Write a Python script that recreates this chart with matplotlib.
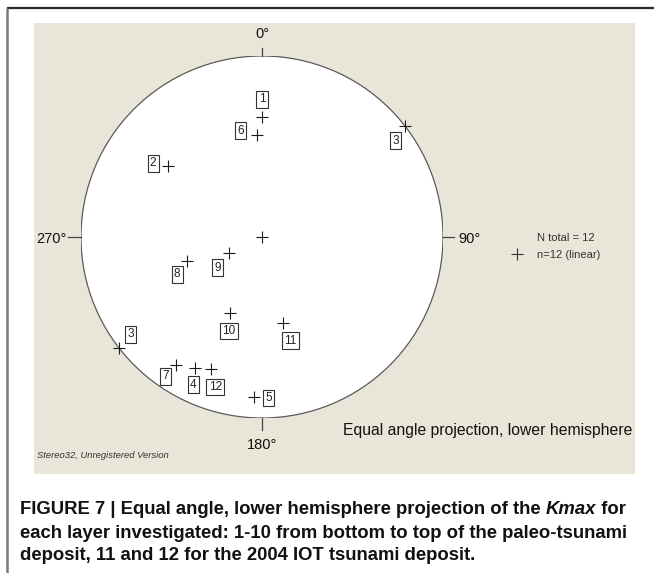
import numpy as np
import matplotlib
matplotlib.use("Agg")
import matplotlib.pyplot as plt
from matplotlib.patches import Rectangle, Circle
from matplotlib import font_manager

# ---------------- data (Kmax axes, one per layer) ----------------
layers = ["1", "2", "3", "4", "5", "6", "7", "8", "9", "10", "11", "12"]
trend = [0, 307, 52, 207, 183, 357, 214, 252, 245, 203, 166, 201]     # degrees
plunge = [23, 24, 0, 12, 7, 31, 9, 43, 67, 41, 38, 14]               # degrees
n_total = 12
direction_labels = ["0°", "90°", "180°", "270°"]
projection_note = "Equal angle projection, lower hemisphere"
software_note = "Stereo32, Unregistered Version"
caption_lines = [
    [("FIGURE 7 | Equal angle, lower hemisphere projection of the ", "normal"),
     ("Kmax", "italic"), (" for", "normal")],
    [("each layer investigated: 1-10 from bottom to top of the paleo-tsunami", "normal")],
    [("deposit, 11 and 12 for the 2004 IOT tsunami deposit.", "normal")],
]

# label placement relative to each cross (pixels, x right, y down)
label_offsets = {
    "1": (0, -18), "2": (-15, -3), "3": (-9, 15), "4": (-2, 17), "5": (15, 1),
    "6": (-16, -4), "7": (-10, 11), "8": (-10, 13), "9": (-11, 15),
    "10": (-1, 18), "11": (7, 18), "12": (4, 18),
}
antipode_offset = (11, -14)

W, H, DPI = 654, 573, 100
fig = plt.figure(figsize=(W / DPI, H / DPI), dpi=DPI)
fig.patch.set_facecolor("white")

names = {f.name for f in font_manager.fontManager.ttflist}
cap_family = "Liberation Sans Narrow" if "Liberation Sans Narrow" in names else "Liberation Sans"

# background axes in pixel coordinates
bg = fig.add_axes([0, 0, 1, 1], zorder=0)
bg.set_xlim(0, W)
bg.set_ylim(H, 0)
bg.axis("off")
bg.add_patch(Rectangle((34, 23), 601, 451, fc="#E9E5D8", ec="none"))
bg.plot([7, W], [8, 8], color="#2a2a2a", lw=1.6, solid_capstyle="butt")
bg.plot([7, 7], [8, H], color="#7a7a7a", lw=1.8, solid_capstyle="butt")

renderer = fig.canvas.get_renderer()


def fit_width(t, target):
    w = t.get_window_extent(renderer).width
    t.set_fontsize(t.get_fontsize() * target / w)


# stereonet axes: circle centre (262, 237) px, radius 181 px
cx, cy, R = 262, 237, 181
ax = fig.add_axes([(cx - R) / W, (H - cy - R) / H, 2 * R / W, 2 * R / H], zorder=2)
ax.set_xlim(-1, 1)
ax.set_ylim(-1, 1)
ax.axis("off")
ax.add_patch(Circle((0, 0), 1, fc="white", ec="#5a5a5a", lw=0.9, zorder=1))

# ticks at N/E/S/W
px = 1.0 / R
tick_len = {"0°": 8, "90°": 11, "180°": 12, "270°": 13}
lab_font = dict(family="Liberation Sans", fontsize=10.5, color="#111111")
ax.plot([0, 0], [1, 1 + tick_len["0°"] * px], color="#444", lw=0.9, clip_on=False)
ax.plot([1, 1 + tick_len["90°"] * px], [0, 0], color="#444", lw=0.9, clip_on=False)
ax.plot([0, 0], [-1, -1 - tick_len["180°"] * px], color="#444", lw=0.9, clip_on=False)
ax.plot([-1, -1 - tick_len["270°"] * px], [0, 0], color="#444", lw=0.9, clip_on=False)
ax.text(0, 1 + 22 * px, direction_labels[0], ha="center", va="center", clip_on=False, **lab_font)
ax.text(1 + 15 * px, -2 * px, direction_labels[1], ha="left", va="center", clip_on=False, **lab_font)
ax.text(0, -1 - 27 * px, direction_labels[2], ha="center", va="center", clip_on=False, **lab_font)
ax.text(-1 - 14 * px, -2 * px, direction_labels[3], ha="right", va="center", clip_on=False, **lab_font)

# projection of the lineations (equal angle, lower hemisphere)
t = np.radians(trend)
p = np.radians(plunge)
r = np.tan((np.pi / 2 - p) / 2)
xs = r * np.sin(t)
ys = r * np.cos(t)

cross = dict(marker="+", ms=8.5, mew=0.8, color="#1a1a1a", ls="none", zorder=3)
ax.plot([0], [0], **cross)  # centre mark
ax.plot(xs, ys, clip_on=False, **cross)

box = dict(boxstyle="square,pad=0.2", fc="white", ec="#333333", lw=0.8)
k = 72.0 / DPI
for lab, x, y, pl in zip(layers, xs, ys, plunge):
    dx, dy = label_offsets[lab]
    ax.annotate(lab, (x, y), xytext=(dx * k, -dy * k), textcoords="offset points",
                ha="center", va="center", fontsize=8.5, family="Liberation Sans",
                color="#222", bbox=box, zorder=4, annotation_clip=False)
    if pl == 0:  # horizontal line: plot both ends
        ax.plot([-x], [-y], clip_on=False, **cross)
        dx, dy = antipode_offset
        ax.annotate(lab, (-x, -y), xytext=(dx * k, -dy * k), textcoords="offset points",
                    ha="center", va="center", fontsize=8.5, family="Liberation Sans",
                    color="#222", bbox=box, zorder=4, annotation_clip=False)

# legend-like info
bg.plot([517], [254], marker="+", ms=8.5, mew=0.8, color="#333", ls="none")
bg.text(537, 238, f"N total = {n_total}", ha="left", va="center", fontsize=8,
        family="Liberation Sans", color="#333")
bg.text(537, 255, f"n={n_total} (linear)", ha="left", va="center", fontsize=8,
        family="Liberation Sans", color="#333")

tn = bg.text(632, 431, projection_note, ha="right", va="center", fontsize=11,
             family="Liberation Sans", color="#111")
fit_width(tn, 288)
ts = bg.text(37, 456, software_note, ha="left", va="center", fontsize=6, style="italic",
             family="Liberation Sans", color="#333")
fit_width(ts, 131)

# caption
cap_font = dict(family=cap_family, weight="bold", color="#111")
cap_y = [510, 533, 556]
size = 12.0


def draw_line(parts, y, fs):
    x = 20
    objs = []
    for s, st in parts:
        tt = bg.text(x, y, s, ha="left", va="center", fontsize=fs, style=st, **cap_font)
        x += tt.get_window_extent(renderer).width
        objs.append(tt)
    return objs, x - 20


objs, w = draw_line(caption_lines[0], cap_y[0], size)
for o in objs:
    o.remove()
size = size * 607 / w
for parts, y in zip(caption_lines, cap_y):
    draw_line(parts, y, size)

fig.savefig("out.png", dpi=DPI, facecolor="white")
